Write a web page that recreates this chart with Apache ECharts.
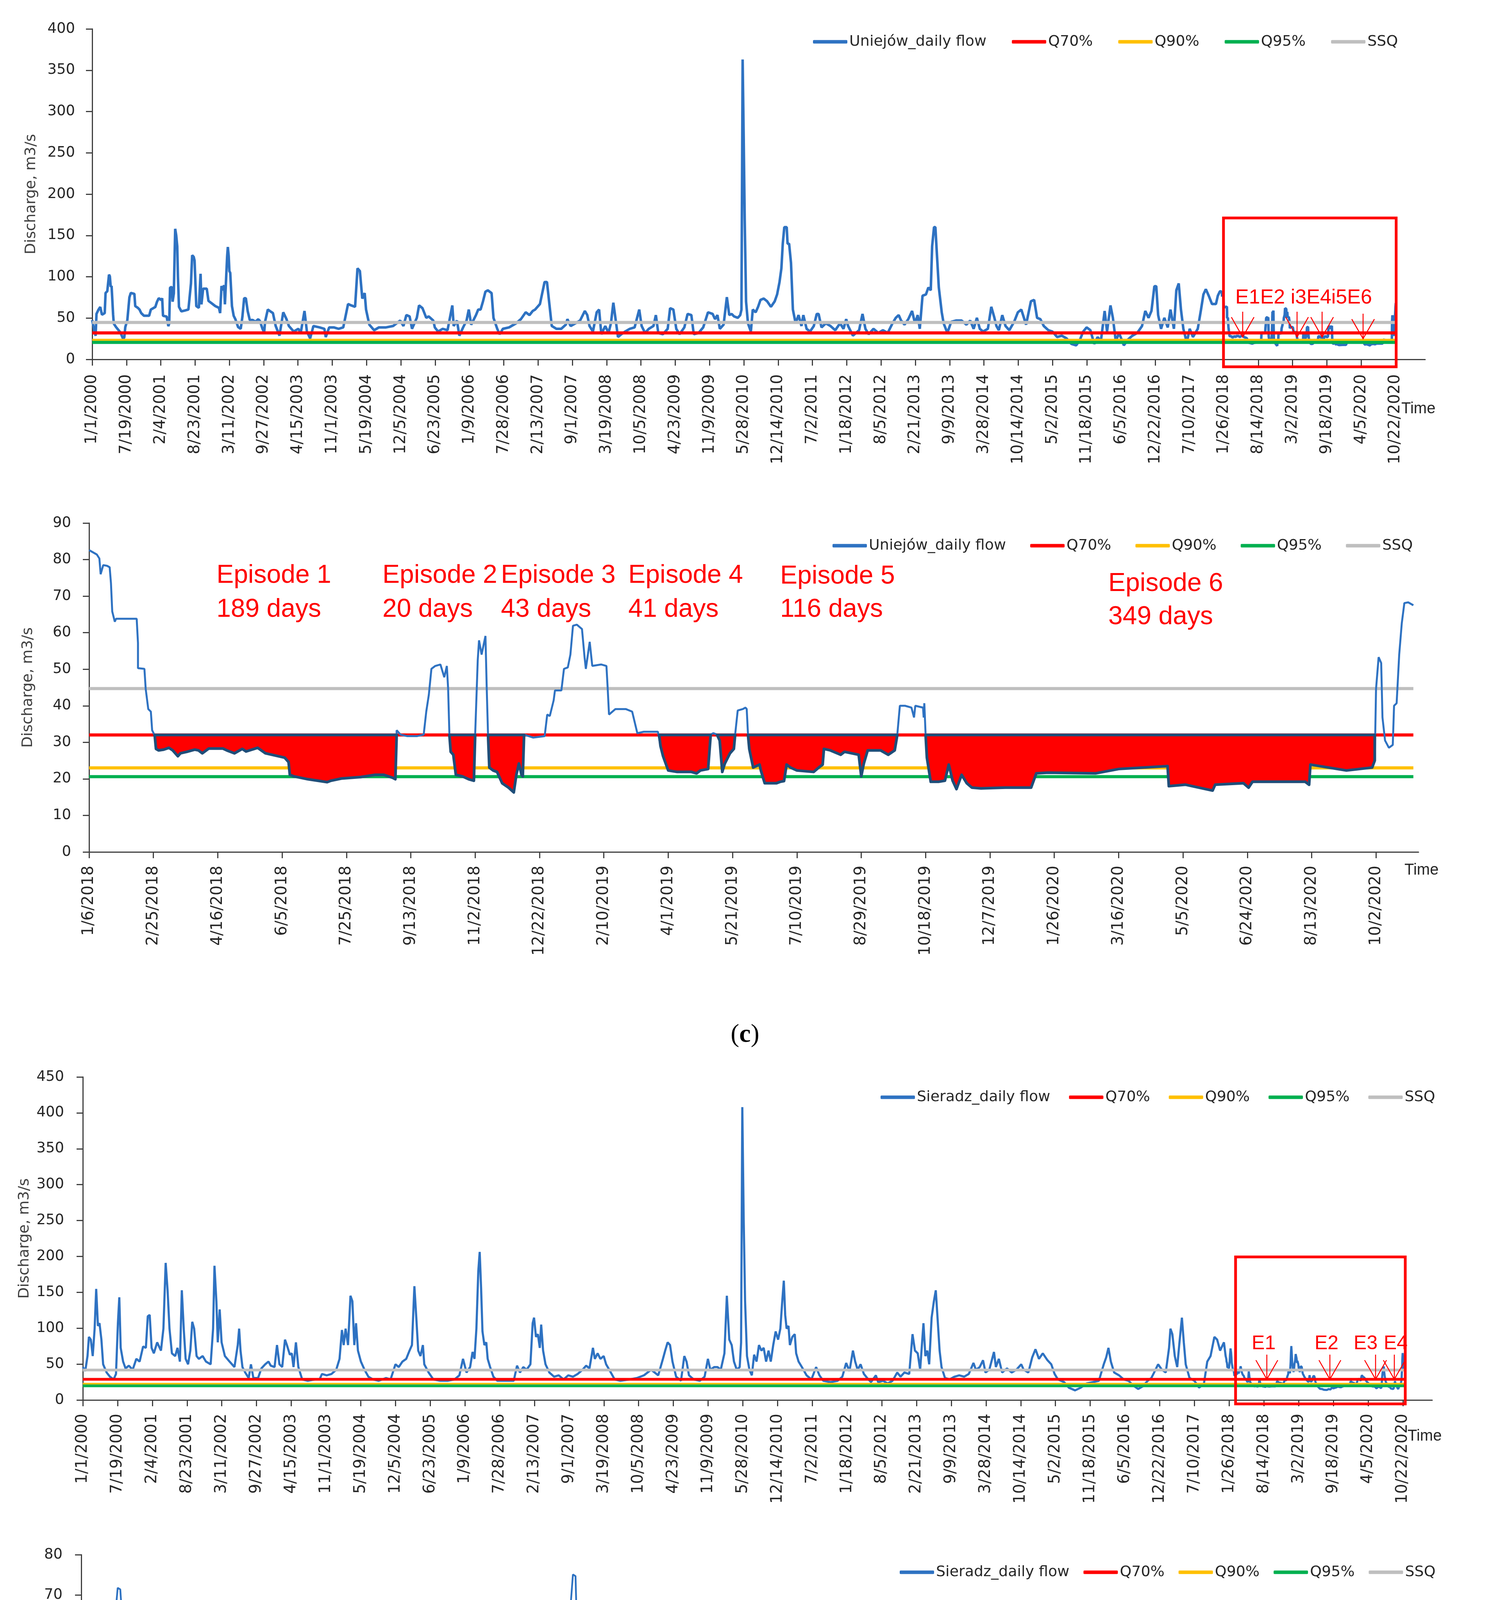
<!DOCTYPE html>
<html><head><meta charset="utf-8">
<script src="https://cdn.jsdelivr.net/npm/echarts@6/dist/echarts.min.js"></script>
<style>html,body{margin:0;padding:0;background:#fff}#c{width:3814px;height:5282px}</style>
</head><body><div id="c"></div>
<script>
// ---------- tick labels ----------
const longTickLabels = ['1/1/2000','7/19/2000','2/4/2001','8/23/2001','3/11/2002','9/27/2002','4/15/2003','11/1/2003','5/19/2004','12/5/2004','6/23/2005','1/9/2006','7/28/2006','2/13/2007','9/1/2007','3/19/2008','10/5/2008','4/23/2009','11/9/2009','5/28/2010','12/14/2010','7/2/2011','1/18/2012','8/5/2012','2/21/2013','9/9/2013','3/28/2014','10/14/2014','5/2/2015','11/18/2015','6/5/2016','12/22/2016','7/10/2017','1/26/2018','8/14/2018','3/2/2019','9/18/2019','4/5/2020','10/22/2020'];
const detailTickLabels = ['1/6/2018','2/25/2018','4/16/2018','6/5/2018','7/25/2018','9/13/2018','11/2/2018','12/22/2018','2/10/2019','4/1/2019','5/21/2019','7/10/2019','8/29/2019','10/18/2019','12/7/2019','1/26/2020','3/16/2020','5/5/2020','6/24/2020','8/13/2020','10/2/2020'];
const detailStartDay = 6580; // 1/6/2018 counted in days from 1/1/2000

// ---------- thresholds [Q70%, Q90%, Q95%, SSQ] ----------
const thresholdNames = ['Q70%','Q90%','Q95%','SSQ'];
const uniejowThresholds = [32, 23, 20.6, 44.7];
const sieradzThresholds = [28.8, 22, 19.7, 41.7];

// ---------- Uniejów daily flow, [day since 1/1/2000, m3/s] up to 1/5/2018 ----------
const uniejowLong = [[0,47.6],[12,34.9],[20,28.5],[25,55],[37,60.3],[47,63.4],[57,54],[73,56],[78,80.4],[88,82.5],[98,102.6],[103,100.5],[108,87.8],[113,88.8],[122,54],[126,43.3],[139,39.1],[164,32.7],[179,25.4],[187,26.4],[193,39.1],[205,47.6],[217,75.1],[225,80.4],[246,79.3],[251,64.5],[266,62.4],[276,60.3],[286,56],[302,52.8],[332,52.8],[342,60.3],[368,63.4],[378,69.8],[388,74],[403,71.9],[408,74],[413,52.8],[434,51.8],[444,40.2],[449,43.3],[454,86.7],[464,87.8],[469,69.8],[476,80],[480,120],[484,158],[490,150],[496,136.8],[500,100],[506,63.6],[520,58.1],[541,59.2],[561,60.3],[576,92],[583,126],[592,124],[597,119.5],[607,64.5],[622,62.4],[632,103.6],[637,66.6],[647,85.6],[668,85.6],[678,70.8],[698,67.7],[718,64.5],[739,62.4],[746,56],[754,88.8],[762,83.5],[769,89.9],[774,66.6],[782,102.6],[787,125],[791,136],[796,125],[800,106.8],[805,104.7],[815,64.5],[825,52.8],[835,48.6],[851,39.1],[866,37],[876,51.8],[886,74],[896,74],[907,58.1],[919,47.6],[937,47.6],[952,45.5],[968,48.6],[978,46.5],[993,37],[1003,32.7],[1008,45.5],[1024,60.3],[1039,58.1],[1054,56],[1070,40.4],[1092,28.7],[1114,57],[1133,48.7],[1147,40.4],[1175,33.7],[1202,37],[1216,32],[1238,58.6],[1252,33.7],[1271,25.4],[1290,40.4],[1326,38.7],[1354,37],[1362,27],[1382,38.7],[1409,38.7],[1437,37],[1464,38.7],[1492,67],[1511,65.3],[1533,63.6],[1547,110.2],[1561,106.9],[1575,73.6],[1589,80.2],[1597,60.3],[1616,42],[1644,35.3],[1672,38.7],[1713,38.7],[1755,40.4],[1796,47],[1815,40.4],[1832,53.6],[1851,52],[1865,37],[1893,50.3],[1906,65.3],[1926,62],[1948,50.3],[1962,52],[1989,47],[1998,38.7],[2017,33.7],[2044,37],[2072,35.3],[2100,65.3],[2108,40.4],[2127,47],[2141,28.7],[2163,38.7],[2183,47],[2196,60.3],[2210,42],[2238,53.6],[2251,60.3],[2265,60.3],[2279,70.3],[2293,81.9],[2307,83.6],[2329,80.2],[2340,50.3],[2362,37],[2376,30.4],[2395,37],[2431,38.7],[2472,43.7],[2500,48.7],[2528,57],[2550,53.6],[2569,58.6],[2583,60.3],[2611,67],[2638,93.6],[2652,93.6],[2666,67],[2680,40.4],[2707,37],[2735,37],[2762,42],[2771,48.7],[2790,40.4],[2818,43.7],[2845,47],[2873,58.6],[2887,53.6],[2900,40.4],[2920,33.7],[2942,57],[2956,60.3],[2969,30.4],[2992,40.4],[3011,32],[3025,43.7],[3039,68.6],[3052,48.7],[3066,27],[3085,30.4],[3108,33.7],[3135,37],[3163,38.7],[3190,60.3],[3204,40.4],[3224,32],[3246,37],[3273,40.4],[3287,53.6],[3301,32],[3328,30.4],[3356,37],[3370,62],[3389,60.3],[3406,37],[3425,30.4],[3453,38.7],[3472,55],[3494,53.6],[3508,30.4],[3536,32],[3563,38.7],[3591,57],[3618,55],[3632,48.7],[3646,53.6],[3660,37],[3682,42],[3701,75.3],[3715,53.6],[3729,55],[3743,52],[3765,50.3],[3779,53.6],[3786,60],[3793,363],[3799,270],[3805,170],[3813,70],[3824,43.7],[3841,33.7],[3852,60.3],[3869,57],[3883,63.6],[3897,72],[3916,73.6],[3936,70.3],[3958,63.6],[3980,70.3],[3994,78.6],[4008,93.6],[4019,110.2],[4027,140],[4036,160],[4050,160],[4055,140],[4064,140],[4075,116.8],[4086,60.3],[4102,43.7],[4119,53.6],[4136,40.4],[4147,53.6],[4166,37],[4186,33.7],[4208,40.4],[4225,55],[4236,55],[4253,38.7],[4278,43.7],[4305,40.4],[4333,35.3],[4361,43.7],[4381,37],[4397,48.7],[4408,40.4],[4436,28.7],[4472,35.3],[4492,55],[4509,37],[4528,30.4],[4556,37],[4584,32],[4611,35.3],[4639,32],[4667,43.7],[4686,50.3],[4703,53.6],[4717,47],[4737,42],[4759,48.7],[4781,58.6],[4798,43.7],[4814,53.6],[4826,37],[4842,77],[4862,78.6],[4876,87],[4890,83.6],[4898,136.8],[4909,160],[4917,160],[4926,126.8],[4937,87],[4954,57],[4965,43.7],[4987,32],[5009,45.4],[5037,47],[5070,47],[5098,42],[5120,47],[5140,37],[5159,50.3],[5176,37],[5195,33.7],[5223,37],[5243,63.6],[5259,52],[5273,40.4],[5287,35.3],[5307,53.6],[5326,40.4],[5348,35.3],[5376,45.4],[5398,57],[5418,60.3],[5446,42],[5474,70.3],[5493,72],[5510,50.3],[5529,48.7],[5549,40.4],[5576,35.3],[5599,33.7],[5627,27],[5654,28.7],[5682,25.4],[5710,18.7],[5738,17],[5760,23.7],[5779,33.7],[5799,38.7],[5821,35.3],[5843,18.7],[5863,27],[5882,22],[5904,58.6],[5918,33.7],[5938,65.3],[5952,50.3],[5969,22],[5988,32],[6016,17],[6038,23.7],[6066,28.7],[6094,32],[6122,40.4],[6141,58.6],[6160,50.3],[6177,58.6],[6194,88.5],[6205,88.5],[6216,53.6],[6233,37],[6252,50.3],[6272,38.7],[6288,60.3],[6308,37],[6322,83.6],[6336,91.9],[6349,60.3],[6363,37],[6383,20.4],[6400,37],[6419,27],[6447,37],[6466,60.3],[6480,78.6],[6494,85],[6511,77],[6530,67],[6553,67],[6564,77],[6575,81.9]];

// ---------- Uniejów daily flow, [day since 1/6/2018, m3/s] ----------
const uniejowDetail = [[0,82.6],[6,81.4],[8,80.3],[9,76],[11,78.5],[14,78.3],[16,77.9],[17,73.6],[18,65.8],[20,63],[21,63.8],[37,63.8],[38,57.2],[38,50.3],[43,50.1],[44,44.6],[46,39.1],[48,38.4],[49,33.3],[51,31.9],[52,28.2],[54,27.8],[58,28],[62,28.5],[65,27.8],[69,26.2],[71,27],[76,27.4],[82,28],[85,27.8],[88,27],[93,28.3],[104,28.3],[107,27.8],[113,27],[119,28.2],[122,27.5],[131,28.5],[137,27],[142,26.6],[152,25.8],[155,24.6],[156,21.1],[159,20.7],[170,19.9],[185,19.1],[188,19.5],[196,20.1],[211,20.5],[222,21.1],[229,21.1],[236,20.3],[238,19.9],[239,33.3],[242,32.1],[247,31.7],[255,31.7],[260,32.1],[262,38.4],[264,43],[266,50.1],[269,50.9],[273,51.3],[276,47.8],[278,50.9],[279,44.6],[280,32],[281,27.4],[283,26.6],[285,21.1],[290,20.7],[295,19.9],[299,19.5],[300,32.1],[302,52.5],[303,57.9],[305,54],[308,59.1],[309,44.6],[310,32.1],[311,23.1],[314,22.3],[317,21.9],[321,18.8],[326,17.6],[330,16.3],[332,21.1],[334,24.2],[336,21.1],[337,20.7],[338,32.1],[345,31.3],[354,31.7],[356,37.6],[358,37.2],[361,41.5],[362,44.2],[367,44.2],[369,50.1],[372,50.5],[374,54],[376,61.9],[379,62.2],[383,61],[385,53.3],[386,50.1],[389,57.5],[391,50.9],[398,51.3],[402,50.9],[403,44.6],[404,37.6],[409,39.1],[417,39.1],[422,38.4],[426,32.5],[431,32.9],[442,32.9],[444,29],[446,26.2],[450,22.3],[457,21.9],[468,21.9],[472,21.5],[475,22.3],[481,22.7],[483,32.1],[485,32.5],[488,32.1],[490,30.5],[492,21.9],[494,24.2],[498,27],[501,28.2],[502,32.1],[504,38.7],[508,39.1],[510,39.5],[511,39.1],[512,32.1],[513,28.2],[516,23.1],[521,23.9],[522,22.3],[525,18.8],[534,18.8],[537,19.2],[540,19.4],[542,23.9],[545,23.1],[550,22.3],[563,21.9],[567,23.1],[570,23.9],[571,28.2],[576,27.8],[584,26.6],[587,27.4],[598,26.6],[600,20.7],[602,24.2],[605,27.8],[615,27.8],[621,26.6],[626,27.8],[628,32.1],[630,40],[634,40],[639,39.5],[641,36.8],[642,40],[648,39.5],[648.5,36.8],[649,40.7],[650,32.1],[651,25.8],[654,19.2],[660,19.2],[665,19.5],[668,23.9],[671,19.5],[674,17.2],[678,21.1],[682,18.8],[686,17.6],[693,17.4],[712,17.6],[732,17.6],[736,21.5],[745,21.7],[782,21.5],[800,22.7],[838,23.5],[839,18],[852,18.4],[873,16.8],[875,18.4],[897,18.8],[901,17.6],[904,19.2],[945,19.2],[948,18.4],[949,23.9],[977,22.3],[997,23.1],[999,25],[1000,44.6],[1002,53.3],[1004,51.7],[1005,36.8],[1007,30.5],[1010,28.5],[1013,29.3],[1014,40],[1016,40.7],[1018,54],[1020,62.6],[1022,68.1],[1025,68.3],[1029,67.5]];

// ---------- Sieradz daily flow, [day since 1/1/2000, m3/s] up to 1/5/2018 ----------
const sieradzLong = [[0,45.9],[14,40.2],[27,61.2],[35,87.9],[46,84.1],[57,61.2],[68,99.4],[77,154.7],[87,103.2],[96,107],[107,84.1],[117,49.7],[137,38.3],[156,32.5],[177,28.7],[191,36.3],[202,107],[210,143],[218,72.6],[232,53.5],[246,44],[265,47.8],[287,42.1],[308,57.3],[327,53.5],[347,74.5],[363,72.6],[374,116.6],[385,118.5],[396,72.6],[409,65],[428,80.3],[450,68.8],[464,99.4],[477,191],[488,152.8],[499,99.4],[513,65],[532,61.2],[545,72.6],[559,53.5],[570,152.8],[581,99.4],[592,57.3],[606,49.7],[619,68.8],[630,108.9],[641,99.4],[655,61.2],[668,57.3],[690,61.2],[709,53.5],[736,49.7],[750,99.4],[758,187],[769,137.6],[777,80.3],[788,126.1],[799,80.3],[818,61.2],[845,53.5],[873,45.9],[892,76.5],[900,99.4],[908,68.8],[919,45.9],[935,38.3],[955,30.6],[968,49.7],[982,30.6],[1009,30.6],[1028,44],[1050,49.7],[1069,53.5],[1082,47.8],[1104,45.9],[1118,76.5],[1132,49.7],[1148,45.9],[1164,84.1],[1175,76.5],[1192,63.1],[1203,65],[1213,45.9],[1227,80.3],[1241,45.9],[1263,28.7],[1295,26.8],[1336,28.7],[1363,28.7],[1377,36.3],[1404,34.4],[1432,36.3],[1459,42.1],[1478,57.3],[1492,97.5],[1502,76.5],[1513,99.4],[1527,76.5],[1541,145.2],[1552,137.6],[1563,76.5],[1573,107],[1584,68.8],[1601,53.5],[1622,42.1],[1644,32.5],[1671,28.7],[1704,26.8],[1745,30.6],[1772,28.7],[1800,49.7],[1819,45.9],[1840,53.5],[1862,57.3],[1881,68.8],[1895,76.5],[1909,158.5],[1920,114.7],[1931,68.8],[1944,61.2],[1958,76.5],[1966,49.7],[1991,38.3],[2018,28.7],[2058,26.8],[2100,26.8],[2140,28.7],[2168,34.4],[2189,57.3],[2209,38.3],[2230,45.9],[2244,66.9],[2255,57.3],[2266,99.4],[2277,179.6],[2285,206.3],[2293,156.6],[2301,95.5],[2312,76.5],[2323,80.3],[2331,57.3],[2345,45.9],[2364,32.5],[2386,26.8],[2440,26.8],[2481,26.8],[2500,47.8],[2517,38.3],[2536,45.9],[2555,42.1],[2577,49.7],[2590,107],[2598,114.7],[2609,87.9],[2620,91.7],[2631,72.6],[2639,105.1],[2650,68.8],[2664,49.7],[2686,38.3],[2713,32.5],[2740,34.4],[2768,28.7],[2795,34.4],[2822,32.5],[2849,36.3],[2877,42.1],[2898,47.8],[2917,44],[2937,72.6],[2948,57.3],[2964,65],[2980,57.3],[2999,61.2],[3013,49.7],[3040,38.3],[3062,28.7],[3095,26.8],[3149,28.7],[3190,30.6],[3231,34.4],[3272,42.1],[3313,34.4],[3340,57.3],[3353,68.8],[3367,80.3],[3381,76.5],[3395,53.5],[3416,32.5],[3444,26.8],[3463,61.2],[3476,53.5],[3490,34.4],[3517,28.7],[3553,26.8],[3580,32.5],[3599,57.3],[3613,42.1],[3635,45.9],[3654,45.9],[3673,42.1],[3694,65],[3708,145.2],[3722,84.1],[3736,76.5],[3749,53.5],[3765,42.1],[3782,45.9],[3790,80],[3797,408],[3805,252],[3813,137.6],[3824,61.2],[3838,42.1],[3852,34.4],[3865,63.1],[3879,53.5],[3893,76.5],[3907,68.8],[3920,72.6],[3934,53.5],[3948,68.8],[3961,53.5],[3975,76.5],[3989,95.5],[4003,84.1],[4016,99.4],[4027,137.6],[4036,166.2],[4044,118.5],[4052,99.4],[4063,103.2],[4071,76.5],[4085,87.9],[4099,91.7],[4107,65],[4121,53.5],[4140,45.9],[4167,34.4],[4195,28.7],[4222,45.9],[4241,34.4],[4263,26.8],[4305,24.9],[4346,26.8],[4373,32.5],[4395,51.6],[4414,40.2],[4434,68.8],[4447,53.5],[4461,42.1],[4478,49.7],[4497,36.3],[4516,30.6],[4538,24.9],[4566,34.4],[4579,24.9],[4607,26.8],[4634,23],[4662,26.8],[4689,38.3],[4708,32.5],[4730,38.3],[4758,36.3],[4777,91.7],[4791,68.8],[4807,65],[4821,42.1],[4840,107],[4851,61.2],[4862,68.8],[4873,49.7],[4887,114.7],[4900,137.6],[4911,152.8],[4922,110.8],[4933,68.8],[4944,45.9],[4964,30.6],[4991,28.7],[5019,32.5],[5046,34.4],[5074,32.5],[5101,36.3],[5128,51.6],[5142,42.1],[5164,45.9],[5183,55.4],[5197,38.3],[5219,42.1],[5246,66.9],[5257,45.9],[5274,57.3],[5293,38.3],[5321,44],[5348,38.3],[5375,42.1],[5403,49.7],[5417,42.1],[5444,38.3],[5466,59.3],[5485,70.7],[5505,57.3],[5527,65],[5554,55.4],[5576,49.7],[5595,36.3],[5614,28.7],[5650,24.9],[5677,17.2],[5713,13.4],[5746,17.2],[5779,23],[5815,24.9],[5850,26.8],[5878,49.7],[5892,59.3],[5905,72.6],[5919,53.5],[5938,38.3],[5966,34.4],[5993,28.7],[6021,26.8],[6043,21.1],[6076,15.3],[6103,19.1],[6131,26.8],[6152,30.6],[6172,40.2],[6191,49.7],[6213,42.1],[6235,38.3],[6254,72.6],[6262,99.4],[6273,91.7],[6287,61.2],[6301,45.9],[6314,80.3],[6328,114.7],[6339,80.3],[6350,49.7],[6372,30.6],[6400,26.8],[6427,17.2],[6455,23],[6474,53.5],[6493,61.2],[6515,87.9],[6531,84.1],[6548,68.8],[6570,80.3]];

// ---------- Sieradz daily flow, [day since 1/6/2018, m3/s] ----------
const sieradzDetail = [[0,60.9],[2,59.1],[4,56.6],[5,53.4],[7,52.1],[8,50.5],[10,45.1],[12,45.6],[14,44.7],[16,46],[18,46],[19,43.9],[21,48.4],[23,54.2],[25,62.4],[27,68.1],[28,71.8],[30,71.4],[31,66.5],[33,59.9],[35,51.7],[38,47.6],[40,44.3],[43,42.7],[46,41],[48,37.8],[50,34.1],[53,33.8],[58,33.8],[60,35.3],[63,36.9],[66,35.7],[68,38.2],[70,39.8],[73,38.2],[75,36.9],[78,39.8],[81,41.5],[84,44.3],[86,47],[88,45.2],[90,41.9],[93,38.6],[96,37.8],[98,35.3],[101,34.9],[104,33.7],[107,31.6],[109,30.4],[112,29.9],[115,28.7],[118,27.9],[119,27.7],[121,27.1],[123,26.7],[125,25],[127,26.3],[128,25.4],[130,24.6],[131,33.6],[133,39.8],[135,39.4],[137,32],[139,29.5],[141,25.4],[143,24.2],[146,23.1],[149,22.2],[151,20.9],[154,20.5],[157,19.3],[159,20.5],[161,21.3],[164,19.7],[167,18.5],[170,18.9],[172,20.5],[174,21.7],[176,20.1],[178,18.9],[181,18.7],[187,18.7],[190,19],[192,23.8],[194,29.5],[197,30.4],[198,28.7],[199,23.8],[201,22.2],[204,21.7],[207,20.9],[210,19.7],[212,18.9],[216,18.7],[221,18.9],[225,18.7],[229,18.1],[233,19.7],[237,19],[243,18.9],[254,18.7],[265,19],[276,19],[287,19],[290,18.9],[292,22.2],[296,26.3],[300,25.4],[305,24.5],[310,24],[318,23.8],[323,23.1],[327,22.6],[329,21.7],[332,23],[336,25],[338,26.3],[340,28.7],[341,29.5],[344,29.1],[347,27.1],[349,26.7],[352,29.5],[354,32],[357,34.1],[360,36.1],[361,39],[363,40.6],[365,39.8],[368,38.6],[370,37.3],[371,40.2],[373,48.4],[374,52.5],[376,66.5],[378,75.1],[380,74.7],[381,62.4],[383,51.7],[385,48.4],[387,44.3],[389,41],[391,39],[392,38.2],[394,43.5],[396,50.1],[398,50.9],[400,55],[403,64],[405,64.8],[408,58.3],[410,53.4],[412,51.7],[413,54.6],[415,53.8],[418,50.1],[421,43.5],[423,42.7],[425,40.2],[427,39],[430,43.5],[432,47.2],[435,46.8],[438,46],[440,42.7],[443,37.8],[445,36.1],[449,34.5],[452,32.8],[456,31.2],[460,29.5],[463,28.3],[467,27.5],[471,26.7],[474,25.4],[478,25],[480,26.3],[482,32.8],[483,34.5],[485,32],[487,27.1],[490,26.3],[492,25.4],[495,25.9],[497,27.1],[499,28.7],[501,30.8],[503,30.8],[506,33.7],[508,34.5],[511,32.8],[513,30.4],[515,27.1],[518,24.6],[521,23],[524,21.3],[528,19.7],[532,18.9],[535,17.6],[539,16.8],[543,15.6],[546,14.9],[550,15.4],[554,14.8],[557,15.2],[563,14.4],[570,14.1],[581,14],[587,14.4],[592,15.2],[598,14.9],[603,14.6],[609,16.4],[614,17.2],[620,16.3],[625,16.6],[633,17.2],[640,17.9],[647,18.9],[653,18.1],[658,17.9],[664,17.6],[669,18.5],[675,18.9],[680,20.1],[688,19.3],[693,19.9],[700,19.7],[708,19.9],[713,20.5],[717,23.8],[720,26.3],[724,25.4],[728,24.6],[733,24.2],[737,25],[741,23.4],[744,22.2],[748,21.2],[752,20.9],[754,23],[757,25.4],[761,28.3],[765,29.5],[768,29.5],[771,28.7],[774,27.9],[777,26.7],[779,28.7],[781,32],[784,34.5],[786,34.1],[788,33.2],[791,32.4],[794,31.6],[797,31.2],[799,31.2],[801,30],[804,28.7],[807,27.5],[810,26.3],[814,25.4],[818,24.2],[821,23.4],[825,22.6],[829,20.9],[834,20.1],[840,19.5],[845,18.9],[851,18.7],[856,18.9],[861,18.1],[865,17.2],[869,16],[873,17.6],[876,17.2],[880,18.1],[884,17.6],[887,18.9],[890,17.2],[893,16.4],[896,16.6],[898,19.7],[900,29.5],[902,34.5],[904,39.4],[906,41],[907,42.7],[910,46.8],[911,44.3],[913,38.6],[915,34.5],[918,29.5],[920,27.1],[923,24.6],[926,24.5],[929,22.2],[931,20.9],[935,20.1],[938,18.9],[940,17.6],[943,18.9],[946,18.5],[948,17.2],[951,16],[955,15.6],[961,15.4],[966,15.6],[968,17.2],[971,22.2],[973,23.8],[975,26.3],[977,23.8],[980,21.7],[983,20.1],[986,18.9],[988,17.2],[991,16.4],[993,15.2],[995,16.4],[998,18.1],[1001,20.1],[1003,23],[1006,23.4],[1009,22.6],[1012,22.6],[1013,29.5],[1014,36.9],[1016,44.3],[1017,56.6],[1019,65.3],[1021,65.3],[1023,58.3],[1025,48.4],[1027,45.1],[1028,42.7],[1030,41]];

// ---------- low-flow episodes [first day, last day] (days since 1/6/2018) ----------
const uniejowEpisodes = [[51,239],[280,300],[310,338],[443,483],[488,502],[512,628],[650,999]];
const sieradzEpisodes = [[115,131],[139,194],[198,340],[514,763],[804,900],[918,1013]];
const uniejowEpisodeText = [['Episode 1','189 days'],['Episode 2','20 days'],['Episode 3','43 days'],['Episode 4','41 days'],['Episode 5','116 days'],['Episode 6','349 days']];
const sieradzEpisodeText = [['Episode 1','200 days'],['Episode 2','249 days'],['Episode 3','99 days'],['Episode 4','94 days']];

// ---------- build ----------
const uniejowFull = uniejowLong.concat(uniejowDetail.map(p => [p[0] + detailStartDay, p[1]]));
const sieradzFull = sieradzLong.concat(sieradzDetail.map(p => [p[0] + detailStartDay, p[1]]));

const TICKF = "'DejaVu Sans', Verdana, sans-serif";
const SANS = "'Liberation Sans', Arial, sans-serif";
const AX = '#404040';
const FLOW = '#2E72C2';
const NAVY = '#1F4E79';
const QCOL = ['#FF0000', '#FFC000', '#00B050', '#BFBFBF'];

const layout = [
  {left:236, top:74,   width:3412, height:846, xmax:7773, ymax:400, yint:50, labels:longTickLabels,   step:200, nameGap:137, yMargin:44, xMargin:38},
  {left:228, top:1339, width:3403, height:842, xmax:1033, ymax:90,  yint:10, labels:detailTickLabels, step:50,  nameGap:137, yMargin:46, xMargin:35},
  {left:212, top:2757, width:3454, height:827, xmax:7769, ymax:450, yint:50, labels:longTickLabels,   step:200, nameGap:127, yMargin:48, xMargin:35},
  {left:208, top:3980, width:3446, height:828, xmax:1035, ymax:80,  yint:10, labels:detailTickLabels, step:50,  nameGap:117, yMargin:48, xMargin:30}
];
const legendPos = [
  {left:2081, top:88,   gap:65, flow:'Uniejów_daily flow'},
  {left:2131, top:1378, gap:62, flow:'Uniejów_daily flow'},
  {left:2254, top:2790, gap:48, flow:'Sieradz_daily flow'},
  {left:2303, top:4006, gap:36, flow:'Sieradz_daily flow'}
];

const grids = [], xAxes = [], yAxes = [], legends = [], series = [];
layout.forEach((L, i) => {
  grids.push({left:L.left, top:L.top, width:L.width, height:L.height, containLabel:false});
  const tickVals = L.labels.map((_, k) => k * L.step);
  xAxes.push({
    type:'value', gridIndex:i, min:0, max:L.xmax,
    axisLine:{show:true, onZero:false, lineStyle:{color:AX, width:3}},
    axisTick:{show:true, length:16, customValues:tickVals, lineStyle:{color:AX, width:3}},
    axisLabel:{show:true, rotate:90, margin:L.xMargin, fontSize:40, fontFamily:TICKF, color:'#262626', customValues:tickVals,
      formatter:(v) => { const k = Math.round(v / L.step); return (Math.abs(v - k*L.step) < 1e-6 && L.labels[k]) ? L.labels[k] : ''; }},
    splitLine:{show:false}
  });
  yAxes.push({
    type:'value', gridIndex:i, min:0, max:L.ymax, interval:L.yint,
    name:'Discharge, m3/s', nameLocation:'middle', nameGap:L.nameGap,
    nameTextStyle:{fontSize:38, fontFamily:TICKF, color:AX},
    axisLine:{show:true, lineStyle:{color:AX, width:3}},
    axisTick:{show:true, length:16, lineStyle:{color:AX, width:3}},
    axisLabel:{margin:L.yMargin, fontSize:37, fontFamily:TICKF, color:'#262626'},
    splitLine:{show:false}
  });
  const lp = legendPos[i];
  legends.push({
    left:lp.left, top:lp.top, padding:0, itemGap:lp.gap, itemWidth:88, itemHeight:9, icon:'roundRect',
    selectedMode:false, data:[lp.flow].concat(thresholdNames),
    textStyle:{fontSize:38, fontFamily:TICKF, color:'#262626'}
  });
});

function flowSeries(i, name, data, width, z) {
  return {type:'line', name:name, xAxisIndex:i, yAxisIndex:i, data:data, showSymbol:false, symbol:'none',
    itemStyle:{color:FLOW}, lineStyle:{color:FLOW, width:width}, z:z, silent:true};
}
function thresholdSeries(i, values, endDay, width, z) {
  return values.map((q, k) => ({type:'line', name:thresholdNames[k], xAxisIndex:i, yAxisIndex:i,
    data:[[0, q], [endDay, q]], showSymbol:false, symbol:'none',
    itemStyle:{color:QCOL[k]}, lineStyle:{color:QCOL[k], width:width}, z:z, silent:true}));
}
function episodeSeries(i, episodes, flow, q, width) {
  return {type:'custom', xAxisIndex:i, yAxisIndex:i, z:4, silent:true,
    data: episodes.map(e => [e[0], q]),
    renderItem: function (params, api) {
      const ep = episodes[params.dataIndex];
      const pts = [api.coord([ep[0], q])];
      flow.forEach(p => { if (p[0] >= ep[0] && p[0] <= ep[1]) pts.push(api.coord([p[0], Math.min(p[1], q)])); });
      pts.push(api.coord([ep[1], q]));
      return {type:'polygon', shape:{points:pts}, style:{fill:'#FF0000', stroke:NAVY, lineWidth:width, lineJoin:'round'}};
    }};
}
const lastDay = a => a[a.length - 1][0];

// panel (c) top: Uniejów overview
series.push(flowSeries(0, 'Uniejów_daily flow', uniejowFull, 6.5, 2));
series.push(...thresholdSeries(0, uniejowThresholds, lastDay(uniejowFull), 8, 3));
// panel (c) bottom: Uniejów detail
series.push(...thresholdSeries(1, uniejowThresholds, lastDay(uniejowDetail), 8, 1));
series.push(flowSeries(1, 'Uniejów_daily flow', uniejowDetail, 5, 2));
series.push(episodeSeries(1, uniejowEpisodes, uniejowDetail, uniejowThresholds[0], 7));
// panel (d) top: Sieradz overview
series.push(flowSeries(2, 'Sieradz_daily flow', sieradzFull, 5.5, 2));
series.push(...thresholdSeries(2, sieradzThresholds, lastDay(sieradzFull), 7, 3));
// panel (d) bottom: Sieradz detail
series.push(...thresholdSeries(3, sieradzThresholds, lastDay(sieradzDetail), 6.5, 1));
series.push(flowSeries(3, 'Sieradz_daily flow', sieradzDetail, 4.5, 2));
series.push(episodeSeries(3, sieradzEpisodes, sieradzDetail, sieradzThresholds[0], 6));

const chart = echarts.init(document.getElementById('c'), null, {renderer:'canvas', width:3814, height:5282});
chart.setOption({
  animation:false, backgroundColor:'#ffffff',
  textStyle:{fontFamily:TICKF},
  grid:grids, xAxis:xAxes, yAxis:yAxes, legend:legends, series:series
});

// ---------- annotations (positioned in data coordinates) ----------
function P(i, x, y) { return chart.convertToPixel({xAxisIndex:i, yAxisIndex:i}, [x, y]); }
const G = [];
function txt(text, xy, size, family, color, align) {
  G.push({type:'text', x:xy[0], y:xy[1], z:100, silent:true,
    style:{text:text, x:0, y:0, fill:color, fontSize:size, fontFamily:family,
      textAlign:align || 'left', align:align || 'left', textVerticalAlign:'middle', verticalAlign:'middle'}});
}
function box(i, x0, x1, y0, y1) {
  const a = P(i, x0, y1), b = P(i, x1, y0);
  G.push({type:'rect', z:100, silent:true, shape:{x:a[0], y:a[1], width:b[0]-a[0], height:b[1]-a[1]},
    style:{fill:'none', stroke:'#FF0000', lineWidth:7}});
}
function arrow(i, d, top, tip, arm, half) {
  const t = P(i, d, tip);
  G.push({type:'polyline', z:100, silent:true, shape:{points:[P(i, d, top), t]}, style:{stroke:'#FF0000', lineWidth:2.5, fill:null}});
  G.push({type:'polyline', z:100, silent:true, shape:{points:[P(i, d - half, arm), t, P(i, d + half, arm)]}, style:{stroke:'#FF0000', lineWidth:2.5, fill:null}});
}

// overview (c)
box(0, 6597, 7604, -9, 171.2);
txt('E1E2 i3E4i5E6', P(0, 6666, 74.2), 52, SANS, '#FF0000');
[[6709,57.7,27,51.1],[7026,57.7,27,51.1],[7172,57.7,27,51.1],[7411,55.3,25,48.7]].forEach(a => arrow(0, a[0], a[1], a[2], a[3], 66));
// overview (d)
box(2, 6637, 7614, -5.4, 199.3);
[['E1',6730],['E2',7092],['E3',7317],['E4',7490]].forEach(e => txt(e[0], P(2, e[1], 78.1), 50, SANS, '#FF0000'));
[6817, 7180, 7443, 7551].forEach(d => arrow(2, d, 63.2, 28.9, 55.5, 63));

// episode labels
const uPos = [[99,75.6,66.3],[228,75.6,66.3],[320,75.6,66.3],[419,75.6,66.3],[537,75.4,66.3],[792,73.4,64.3]];
uniejowEpisodeText.forEach((t, k) => { txt(t[0], P(1, uPos[k][0], uPos[k][1]), 66, SANS, '#FF0000'); txt(t[1], P(1, uPos[k][0], uPos[k][2]), 66, SANS, '#FF0000'); });
const sPos = [[177.6,62.6,53.9],[580.5,62.8,54.4],[803.3,63.6,55],[924.6,63.6,55]];
sieradzEpisodeText.forEach((t, k) => { txt(t[0], P(3, sPos[k][0], sPos[k][1]), 66, SANS, '#FF0000'); txt(t[1], P(3, sPos[k][0], sPos[k][2]), 66, SANS, '#FF0000'); });

// axis "Time" titles
txt('Time', [3587, 1047], 40, SANS, '#262626');
txt('Time', [3595, 2228], 40, SANS, '#262626');
txt('Time', [3603, 3677], 40, SANS, '#262626');
txt('Time', [3599, 4919], 40, SANS, '#262626');

// panel captions
function caption(letter, xy) {
  G.push({type:'text', x:xy[0], y:xy[1], z:100, silent:true,
    style:{text:'{p|(}{b|' + letter + '}{p|)}', x:0, y:0, textAlign:'center', align:'center', textVerticalAlign:'middle', verticalAlign:'middle',
      rich:{p:{fontFamily:"'Liberation Serif', 'Times New Roman', serif", fontSize:66, fill:'#000'},
            b:{fontFamily:"'Liberation Serif', 'Times New Roman', serif", fontSize:66, fontWeight:'bold', fill:'#000'}}}});
}
caption('c', [1907, 2650]);
caption('d', [1907, 5228]);

chart.setOption({graphic:{elements:G}});
</script></body></html>
